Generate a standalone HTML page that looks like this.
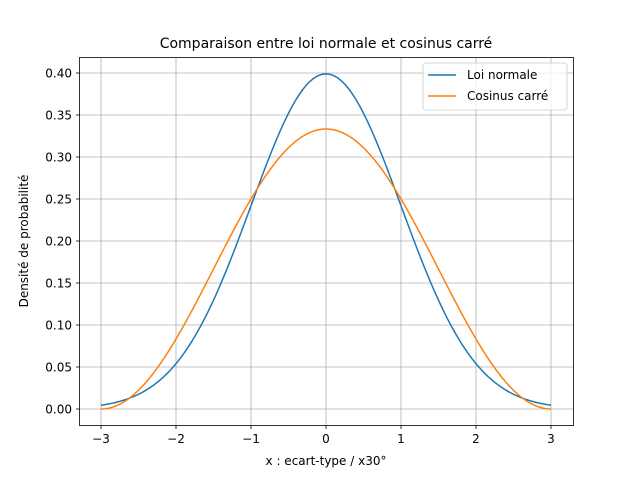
<!DOCTYPE html>
<html><head><meta charset="utf-8"><style>
body{margin:0;background:#fff;}
svg{display:block;font-family:"DejaVu Sans","Liberation Sans",sans-serif;}
</style></head><body>
<svg id="s" width="636" height="478" viewBox="0 0 636 478" xmlns="http://www.w3.org/2000/svg">
<rect width="636" height="478" fill="#fff"/>
<g id="grid" stroke="#b0b0b0" stroke-width="0.8"></g>
<g id="ticks" font-size="12" fill="#000"></g>
<path id="pn" fill="none" stroke="#1f77b4" stroke-width="1.5"/>
<path id="pc" fill="none" stroke="#ff7f0e" stroke-width="1.5"/>
<rect x="79.5" y="57.5" width="494" height="368" fill="none" stroke="#000" stroke-width="0.8"/>
<text x="326" y="48" font-size="14" text-anchor="middle">Comparaison entre loi normale et cosinus carré</text>
<text x="326" y="465" font-size="12" text-anchor="middle">x : ecart-type / x30°</text>
<text transform="translate(28,241) rotate(-90)" font-size="12" text-anchor="middle">Densité de probabilité</text>
<rect x="423" y="63" width="144" height="47" rx="3" fill="#fff" fill-opacity="0.8" stroke="#ccc" stroke-width="0.8"/>
<line x1="428" y1="75" x2="456" y2="75" stroke="#1f77b4" stroke-width="1.5"/>
<text x="467" y="79" font-size="12">Loi normale</text>
<line x1="428" y1="96" x2="456" y2="96" stroke="#ff7f0e" stroke-width="1.5"/>
<text x="467" y="100" font-size="12">Cosinus carré</text>
</svg>
<script>
var X=function(x){return 326+75*x},Y=function(y){return 409-840*y};
var g=document.getElementById('grid'),t=document.getElementById('ticks'),ns='http://www.w3.org/2000/svg';
function el(p,tag,a,txt){var e=document.createElementNS(ns,tag);for(var k in a)e.setAttribute(k,a[k]);if(txt!=null)e.textContent=txt;p.appendChild(e);}
for(var i=-3;i<=3;i++){var x=X(i);el(g,'line',{x1:x,y1:57.5,x2:x,y2:425.5});el(t,'line',{x1:x,y1:425.5,x2:x,y2:429,stroke:'#000','stroke-width':0.8});el(t,'text',{x:x,y:443,'text-anchor':'middle'},(i<0?'\u2212'+(-i):''+i));}
for(var j=0;j<=8;j++){var v=j*0.05,y=Y(v);el(g,'line',{x1:79.5,y1:y,x2:573.5,y2:y});el(t,'line',{x1:76,y1:y,x2:79.5,y2:y,stroke:'#000','stroke-width':0.8});el(t,'text',{x:72,y:y+4.5,'text-anchor':'end'},v.toFixed(2));}
var a='',b='';for(var k=0;k<=300;k++){var x=-3+6*k/300;var n=Math.exp(-x*x/2)/Math.sqrt(2*Math.PI);var c=Math.pow(Math.cos(Math.PI*x/6),2)/3;a+=(k?'L':'M')+X(x).toFixed(2)+' '+Y(n).toFixed(2);b+=(k?'L':'M')+X(x).toFixed(2)+' '+Y(c).toFixed(2);}
document.getElementById('pn').setAttribute('d',a);document.getElementById('pc').setAttribute('d',b);
</script>
</body></html>
